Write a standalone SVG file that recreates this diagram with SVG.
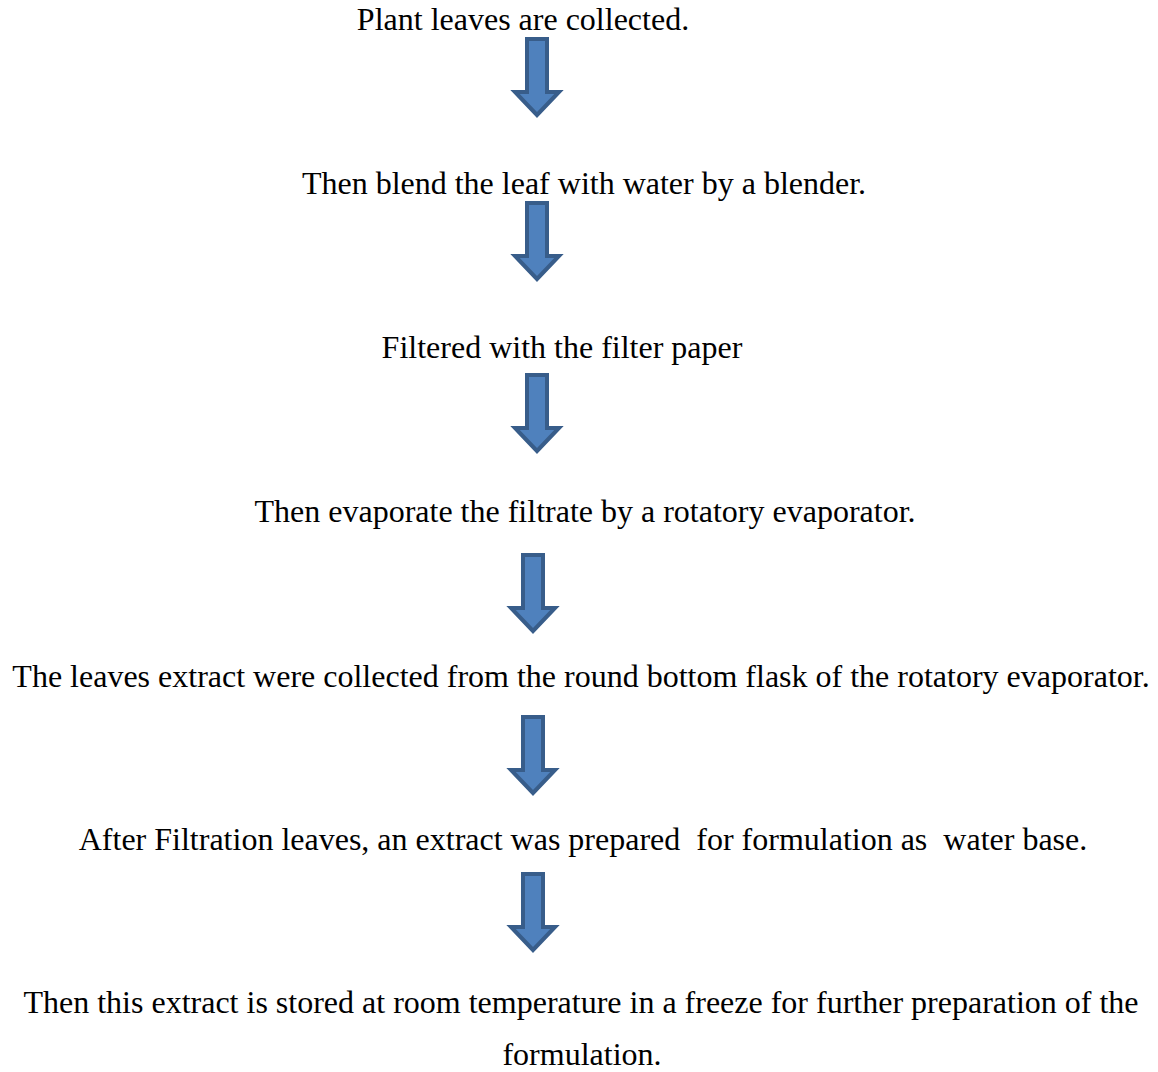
<svg xmlns="http://www.w3.org/2000/svg" width="1158" height="1072" viewBox="0 0 1158 1072">
<defs>
<style>
.t{font-family:"Liberation Serif","Times New Roman",serif;font-size:32px;fill:#000;text-anchor:middle}
.a{fill:#4f81bd;stroke:#385d8a;stroke-width:4;stroke-linejoin:miter}
</style>
<path id="arr" d="M-10,0 H10 V53 H22 L0,76 L-22,53 H-10 Z"/>
</defs>
<rect width="1158" height="1072" fill="#fff"/>
<g id="nodes">
<g id="n1"><text class="t" x="523" y="30">Plant leaves are collected.</text></g>
<g id="n2"><text class="t" x="584" y="194">Then blend the leaf with water by a blender.</text></g>
<g id="n3"><text class="t" x="562" y="358">Filtered with the filter paper</text></g>
<g id="n4"><text class="t" x="585" y="522">Then evaporate the filtrate by a rotatory evaporator.</text></g>
<g id="n5"><text class="t" x="581" y="687">The leaves extract were collected from the round bottom flask of the rotatory evaporator.</text></g>
<g id="n6"><text class="t" x="583" y="850" xml:space="preserve">After Filtration leaves, an extract was prepared  for formulation as  water base.</text></g>
<g id="n7"><text class="t" x="581" y="1013">Then this extract is stored at room temperature in a freeze for further preparation of the</text><text class="t" x="582" y="1065">formulation.</text></g>
</g>
<g id="connectors">
<use href="#arr" class="a" transform="translate(537,39)"/>
<use href="#arr" class="a" transform="translate(537,203)"/>
<use href="#arr" class="a" transform="translate(537,375)"/>
<use href="#arr" class="a" transform="translate(533,555)"/>
<use href="#arr" class="a" transform="translate(533,717)"/>
<use href="#arr" class="a" transform="translate(533,874)"/>
</g>
</svg>
